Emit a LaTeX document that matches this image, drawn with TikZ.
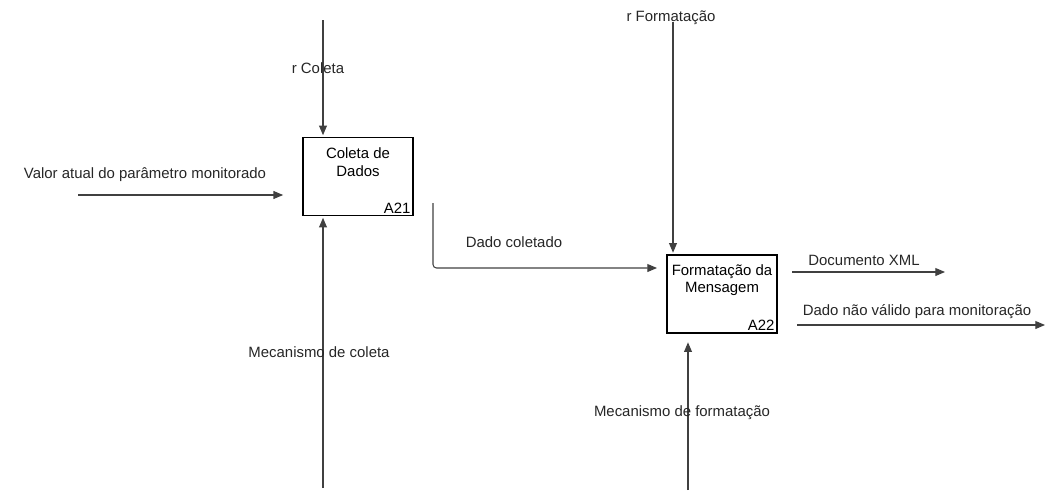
\documentclass[tikz,border=0pt]{standalone}
\usepackage{fontspec}
\setmainfont{Liberation Sans}
\usetikzlibrary{positioning,arrows.meta}

\begin{document}
\begin{tikzpicture}[x=0.2mm, y=-0.2mm, font=\fontsize{8.5}{10}\selectfont,
  func/.style={draw, line width=0.6pt, minimum width=22mm, minimum height=15.6mm, inner sep=0pt},
  flow/.style={draw=black!75, line width=0.6pt, -{Triangle[length=5.5pt,width=4.5pt]}},
  lbl/.style={inner sep=0.5pt, text=black!85}]
  \useasboundingbox (0,0) rectangle (1045,500);

  % activities
  \node[func] (a21) at (358,176.5) {};
  \node[align=center, below=0.9mm of a21.north] (t21) {Coleta de\\Dados};
  \node[anchor=south east, inner sep=1.5pt] (n21) at (a21.south east) {A21};

  \node[func] (a22) at (722,294) {};
  \node[align=center, below=0.7mm of a22.north] (t22) {Formatação da\\Mensagem};
  \node[anchor=south east, inner sep=1.5pt] (n22) at (a22.south east) {A22};

  % free ends
  \coordinate (rcol) at (323,20);
  \coordinate (valor) at (78,195);
  \coordinate (mcol) at (323,488);
  \coordinate (dco) at (433,203);
  \coordinate (dce) at (657,268);
  \coordinate (rfor) at (673,22);
  \coordinate (mfor) at (688,490);
  \coordinate (xmls) at (792,272);
  \coordinate (xmle) at (945,272);
  \coordinate (dnvs) at (797,325);
  \coordinate (dnve) at (1045,325);

  % connectors
  \draw[flow, shorten >=1pt] (rcol) -- (rcol |- a21.north);
  \draw[flow, shorten >=11pt] (valor) -- (valor -| a21.west);
  \draw[flow, shorten >=1pt] (mcol) -- (mcol |- a21.south);
  \draw[flow, rounded corners=2pt] (dco) |- (dce);
  \draw[flow, shorten >=1pt] (rfor) -- (rfor |- a22.north);
  \draw[flow, shorten >=5pt] (mfor) -- (mfor |- a22.south);
  \draw[flow] (xmls) -- (xmle);
  \draw[flow] (dnvs) -- (dnve);

  % labels
  \node[lbl] (lrcol) at (318,68) {r Coleta};
  \node[lbl] (lvalor) at (145,175) {Valor atual do parâmetro monitorado};
  \node[lbl] (lmcol) at (319,352) {Mecanismo de coleta};
  \node[lbl] (ldco) at (514,242) {Dado coletado};
  \node[lbl] (lrfor) at (671,18) {r Formatação};
  \node[lbl] (lmfor) at (682,413) {Mecanismo de formatação};
  \node[lbl] (lxml) at (864,260) {Documento XML};
  \node[lbl] (ldnv) at (917,312) {Dado não válido para monitoração};
\end{tikzpicture}
\end{document}
